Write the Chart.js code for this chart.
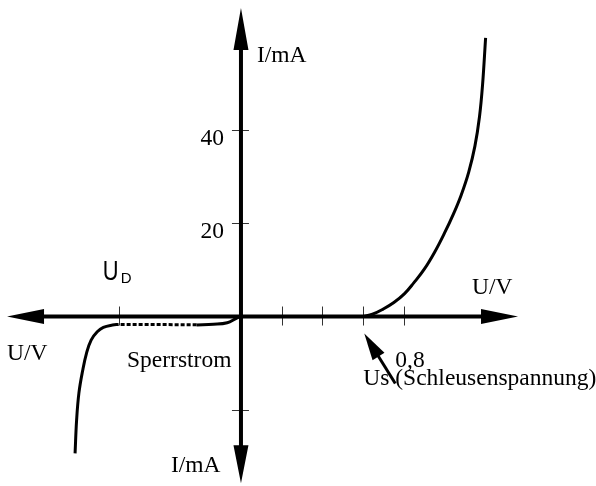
<!DOCTYPE html>
<html>
<head>
<meta charset="utf-8">
<script src="https://cdn.jsdelivr.net/npm/chart.js@4"></script>
<style>
  html, body { margin: 0; padding: 0; background: #fff; }
  canvas { display: block; }
</style>
</head>
<body>
<canvas id="chart" width="596" height="486"></canvas>
<script>
// Diode characteristic (Kennlinie) - forward branch, leakage, breakdown
// values: U in V, I in mA

const fwdU = [0.80, 0.86, 0.93, 1.00, 1.07, 1.13, 1.20, 1.27, 1.33, 1.39, 1.44, 1.49, 1.53, 1.56, 1.58, 1.60];
const fwdI = [0, 0.5, 1.6, 3.0, 4.9, 7.2, 10.2, 14.0, 17.8, 22.0, 26.0, 31.0, 36.5, 42.8, 49.6, 59.7];

const revU = [0, -0.03, -0.09, -0.18, -0.29];
const revI = [0, -0.39, -1.33, -1.67, -1.82];

const leakU = [-0.29, -0.80];
const leakI = [-1.75, -1.70];

const brkU = [-0.80, -0.84, -0.90, -0.94, -0.98, -1.01, -1.035, -1.06, -1.075, -1.085];
const brkI = [-1.70, -1.82, -2.31, -3.26, -5.04, -7.82, -11.5, -16.4, -22.2, -29.3];

const xTicks = [-0.8, 0.267, 0.533, 0.8, 1.067];
const yTicks = [40, 20, -20];
const yTickLabels = ['40', '20', ''];

const xRange = [-1.576, 2.322];
const yRange = [-36.3, 67.8];
const axisEnds = { left: -1.53, right: 1.812, top: 66.1, bottom: -35.7 };

const SERIF = '"Liberation Serif", "Times New Roman", serif';

function pts(xs, ys) { return xs.map((x, i) => ({ x: x, y: ys[i] })); }

const axesPlugin = {
    id: 'axes',
    beforeDatasetsDraw(chart) {
        const ctx = chart.ctx, xs = chart.scales.x, ys = chart.scales.y;
        const x0 = xs.getPixelForValue(0), y0 = ys.getPixelForValue(0);
        const xl = xs.getPixelForValue(axisEnds.left), xr = xs.getPixelForValue(axisEnds.right);
        const yt = ys.getPixelForValue(axisEnds.top), yb = ys.getPixelForValue(axisEnds.bottom);
        ctx.save();
        ctx.fillStyle = '#000'; ctx.strokeStyle = '#000';
        // ticks
        ctx.lineWidth = 1; ctx.strokeStyle = '#333';
        xTicks.forEach(v => {
            const p = Math.round(xs.getPixelForValue(v)) + 0.5;
            ctx.beginPath(); ctx.moveTo(p, y0 - 10); ctx.lineTo(p, y0 + 9); ctx.stroke();
        });
        yTicks.forEach(v => {
            const p = Math.round(ys.getPixelForValue(v)) + 0.5;
            ctx.beginPath(); ctx.moveTo(x0 - 9, p); ctx.lineTo(x0 + 8, p); ctx.stroke();
        });
        // axis lines
        ctx.strokeStyle = '#000'; ctx.lineWidth = 4;
        ctx.beginPath();
        ctx.moveTo(xl + 30, y0); ctx.lineTo(xr - 30, y0);
        ctx.moveTo(x0, yt + 30); ctx.lineTo(x0, yb - 30);
        ctx.stroke();
        // arrow heads
        const L = 37, W = 7.5;
        ctx.beginPath();
        ctx.moveTo(xr, y0); ctx.lineTo(xr - L, y0 - W); ctx.lineTo(xr - L, y0 + W); ctx.closePath();
        ctx.moveTo(xl, y0); ctx.lineTo(xl + L, y0 - W); ctx.lineTo(xl + L, y0 + W); ctx.closePath();
        ctx.moveTo(x0, yt); ctx.lineTo(x0 - W, yt + 42); ctx.lineTo(x0 + W, yt + 42); ctx.closePath();
        ctx.moveTo(x0, yb); ctx.lineTo(x0 - W, yb - 38); ctx.lineTo(x0 + W, yb - 38); ctx.closePath();
        ctx.fill();
        ctx.restore();
    },
    afterDatasetsDraw(chart) {
        const ctx = chart.ctx, xs = chart.scales.x, ys = chart.scales.y;
        const x0 = xs.getPixelForValue(0), y0 = ys.getPixelForValue(0);
        ctx.save();
        ctx.fillStyle = '#000';
        ctx.textBaseline = 'alphabetic';
        ctx.font = '23.5px ' + SERIF;
        // y tick labels
        ctx.textAlign = 'right';
        yTicks.forEach((v, i) => {
            ctx.fillText(yTickLabels[i], x0 - 17, ys.getPixelForValue(v) + 15);
        });
        ctx.textAlign = 'left';
        ctx.fillText('I/mA', x0 + 16, 62);
        ctx.fillText('I/mA', x0 - 70, 472);
        ctx.fillText('U/V', 472, y0 - 23);
        ctx.fillText('U/V', 7, y0 + 43);
        ctx.fillText('Sperrstrom', 127, 367);
        const u8 = xs.getPixelForValue(0.8);
        ctx.fillText('0,8', u8 + 32, 367);
        ctx.fillText('Us (Schleusenspannung)', u8, 385);
        // U_D
        const ud = xs.getPixelForValue(-0.8);
        ctx.save();
        ctx.translate(ud - 16, 280);
        ctx.scale(0.78, 1.02);
        ctx.font = '28px "Liberation Sans", Arial, sans-serif';
        ctx.fillText('U', 0, 0);
        ctx.restore();
        ctx.font = '15px "Liberation Sans", Arial, sans-serif';
        ctx.fillText('D', ud + 2, 283);
        // arrow to 0,8
        const tx = u8 + 1, ty = y0 + 17, sx = u8 + 32, sy = y0 + 67;
        const ang = Math.atan2(ty - sy, tx - sx);
        ctx.strokeStyle = '#000'; ctx.lineWidth = 3;
        ctx.beginPath(); ctx.moveTo(sx, sy);
        ctx.lineTo(tx - Math.cos(ang) * 20, ty - Math.sin(ang) * 20); ctx.stroke();
        ctx.beginPath();
        ctx.moveTo(tx, ty);
        ctx.lineTo(tx - Math.cos(ang) * 27 + Math.sin(ang) * 7, ty - Math.sin(ang) * 27 - Math.cos(ang) * 7);
        ctx.lineTo(tx - Math.cos(ang) * 27 - Math.sin(ang) * 7, ty - Math.sin(ang) * 27 + Math.cos(ang) * 7);
        ctx.closePath(); ctx.fill();
        ctx.restore();
    }
};

const line = { borderColor: '#000', borderWidth: 3, pointRadius: 0, fill: false, showLine: true, tension: 0.4 };

new Chart(document.getElementById('chart').getContext('2d'), {
    type: 'scatter',
    data: { datasets: [
        Object.assign({ label: 'Durchlass', data: pts(fwdU, fwdI) }, line),
        Object.assign({ label: 'Sperr', data: pts(revU, revI) }, line),
        Object.assign({ label: 'Sperrstrom', data: pts(leakU, leakI), borderDash: [4, 2], borderCapStyle: 'butt' }, line, { tension: 0 }),
        Object.assign({ label: 'Durchbruch', data: pts(brkU, brkI) }, line)
    ] },
    options: {
        responsive: false, animation: false,
        layout: { padding: 0 },
        plugins: { legend: { display: false }, tooltip: { enabled: false } },
        scales: {
            x: { type: 'linear', display: false, min: xRange[0], max: xRange[1] },
            y: { type: 'linear', display: false, min: yRange[0], max: yRange[1] }
        }
    },
    plugins: [axesPlugin]
});
</script>
</body>
</html>
